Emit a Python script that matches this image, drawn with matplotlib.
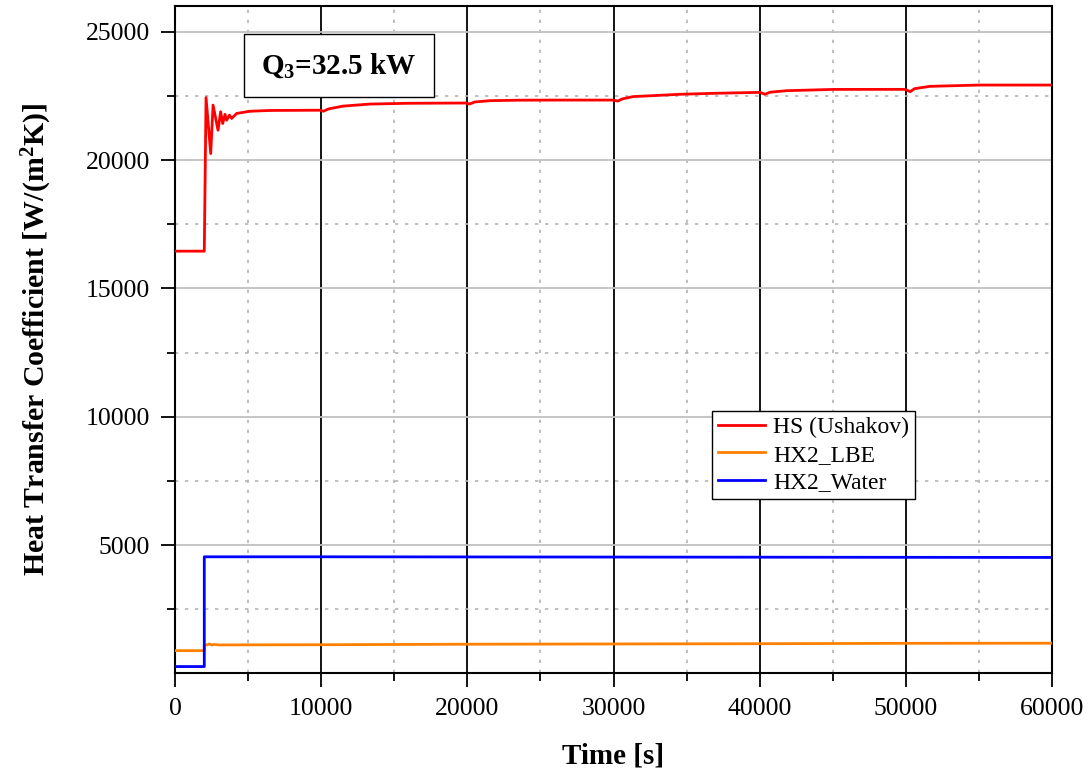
import matplotlib
matplotlib.use("Agg")
import matplotlib.pyplot as plt
from matplotlib.ticker import MultipleLocator, FixedLocator

plt.rcParams['font.family'] = ['Liberation Serif', 'DejaVu Serif']
plt.rcParams['mathtext.fontset'] = 'custom'
plt.rcParams['mathtext.rm'] = 'Liberation Serif'
plt.rcParams['mathtext.bf'] = 'Liberation Serif:bold'
plt.rcParams['mathtext.it'] = 'Liberation Serif:italic'

# ---- data ----
hs_time = [0, 2000, 2000, 2120, 2440, 2600, 2940, 3120, 3260, 3420, 3530, 3720,
           3870, 4220, 5130, 6500, 9920, 10150, 10500, 11500, 13340, 16000,
           19900, 20150, 20500, 21500, 23500, 26000, 29990, 30300, 30600, 31340,
           34550, 37000, 40020, 40360, 40700, 41840, 45020, 49940, 50300, 50600,
           51650, 55060, 60000]
hs_vals = [16450, 16450, 16450, 22430, 20250, 22140, 21160, 21880, 21420, 21780,
           21550, 21750, 21620, 21815, 21900, 21930, 21940, 21900, 21990, 22100,
           22180, 22210, 22220, 22180, 22260, 22310, 22330, 22335, 22335, 22295,
           22380, 22470, 22560, 22600, 22635, 22560, 22640, 22700, 22750, 22752,
           22662, 22780, 22870, 22920, 22920]

lbe_time = [0, 2000, 2000, 2200, 2350, 2500, 2700, 3000, 5000, 10000, 20000,
            30000, 40000, 50000, 60000]
lbe_vals = [890, 890, 1090, 1120, 1150, 1110, 1130, 1113, 1115, 1120, 1140,
            1150, 1160, 1175, 1180]

water_time = [0, 2000, 2000, 10000, 20000, 30000, 40000, 50000, 60000]
water_vals = [270, 270, 4545, 4545, 4540, 4535, 4530, 4525, 4520]

series_labels = ['HS (Ushakov)', 'HX2_LBE', 'HX2_Water']
series_colors = ['#ff0000', '#ff8000', '#0000ff']

x_ticks = [0, 10000, 20000, 30000, 40000, 50000, 60000]
y_ticks = [5000, 10000, 15000, 20000, 25000]

annotation = r'$\mathbf{Q_3}$=32.5 kW'

# ---- figure ----
fig = plt.figure(figsize=(10.9, 7.76), dpi=100)
ax = fig.add_axes([0.1606, 0.1321, 0.8045, 0.8602])

ax.set_xlim(0, 60000)
ax.set_ylim(0, 26000)

# grid
for xv in x_ticks[1:-1]:
    ax.axvline(xv, color='black', lw=1.3, zorder=1)
for xv in [5000, 15000, 25000, 35000, 45000, 55000]:
    ax.axvline(xv, color='#b4b4b4', lw=1.2, ls=(0, (2, 4)), zorder=1)
for yv in y_ticks:
    ax.axhline(yv, color='#c0c0c0', lw=1.3, zorder=1)
for yv in [2500, 7500, 12500, 17500, 22500]:
    ax.axhline(yv, color='#b4b4b4', lw=1.2, ls=(0, (2, 4)), zorder=1)

ax.plot(hs_time, hs_vals, color=series_colors[0], lw=2.0, label=series_labels[0], zorder=3)
ax.plot(lbe_time, lbe_vals, color=series_colors[1], lw=2.0, label=series_labels[1], zorder=3)
ax.plot(water_time, water_vals, color=series_colors[2], lw=2.0, label=series_labels[2], zorder=3)

ax.xaxis.set_major_locator(FixedLocator(x_ticks))
ax.xaxis.set_minor_locator(MultipleLocator(5000))
ax.yaxis.set_major_locator(FixedLocator(y_ticks))
ax.yaxis.set_minor_locator(FixedLocator([2500, 7500, 12500, 17500, 22500]))
ax.set_xticklabels([str(v) for v in x_ticks])
ax.set_yticklabels([str(v) for v in y_ticks])

ax.tick_params(which='major', direction='out', length=10, width=1.3, labelsize=18.5,
               top=False, right=False, pad=8)
ax.tick_params(which='minor', direction='out', length=6, width=1.3, top=False, right=False)

for sp in ax.spines.values():
    sp.set_linewidth(1.5)

ax.set_xlabel('Time [s]', fontsize=21, fontweight='bold', labelpad=16)
ax.set_ylabel(r'Heat Transfer Coefficient [W/(m$^{\mathbf{2}}$K)]', fontsize=21.5,
              fontweight='bold', labelpad=23)

ax.text(0.187, 0.911, annotation, transform=ax.transAxes, ha='center', va='center',
        fontsize=21, fontweight='bold',
        bbox=dict(boxstyle='square,pad=0.6', facecolor='white', edgecolor='black', lw=1.0),
        zorder=5)

leg = ax.legend(loc='lower left', bbox_to_anchor=(0.612, 0.2614), fontsize=17,
                frameon=True, fancybox=False, edgecolor='black', framealpha=1,
                handlelength=2.0, handletextpad=0.35, borderpad=0.25, labelspacing=0.25,
                borderaxespad=0)
leg.get_frame().set_linewidth(1.0)

fig.savefig('out.png', dpi=100)
